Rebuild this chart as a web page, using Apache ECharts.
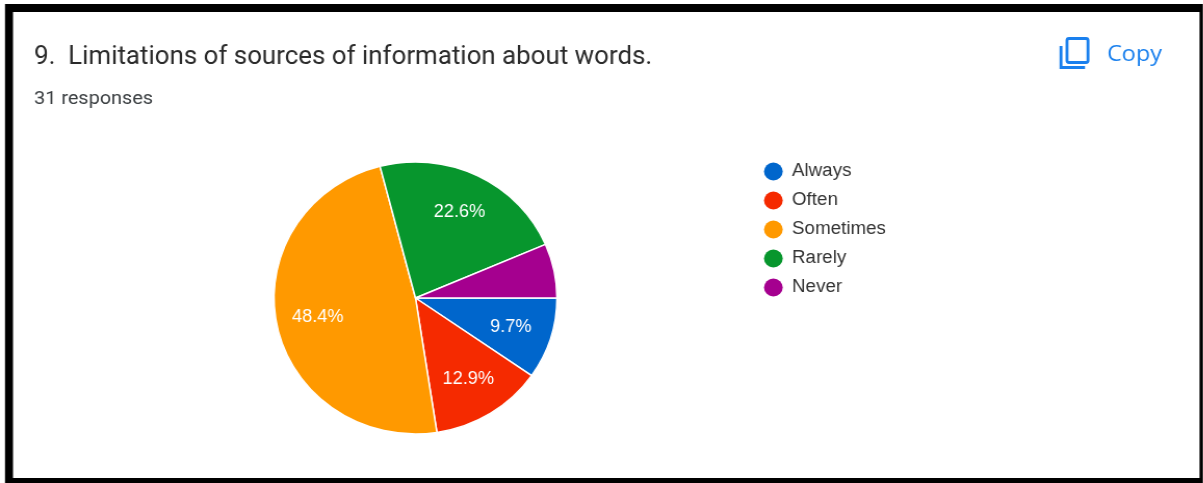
<!DOCTYPE html>
<html>
<head>
<meta charset="utf-8">
<style>
  html, body { margin: 0; padding: 0; background: #fff; overflow: hidden; }
  /* The panel is laid out 4% narrower, then widened to fill the window. */
  #chart { width: 1157px; height: 483px; transform: scaleX(1.04); transform-origin: 0 0; }
</style>
<script src="https://cdn.jsdelivr.net/npm/echarts@6/dist/echarts.min.js"></script>
</head>
<body>
<div id="chart"></div>
<script>
const titleText = '9.  Limitations of sources of information about words.';
const subtitleText = '31 responses';
const copyText = 'Copy';
const categories = ['Always', 'Often', 'Sometimes', 'Rarely', 'Never'];
const values = [3, 4, 15, 7, 2];
const percentLabels = ['9.7%', '12.9%', '48.4%', '22.6%', ''];
const colors = ['#0066cc', '#f52a00', '#ff9900', '#07962d', '#a5008f'];

const WIDEN = 1.04;
const px = x => x / WIDEN;
const blue = '#1a80ee';

const chart = echarts.init(document.getElementById('chart'), null, { renderer: 'canvas' });
chart.setOption({
  animation: false,
  backgroundColor: '#fff',
  graphic: [
    // Heavy black frame around the card, running off the right and bottom edges
    { type: 'rect', silent: true, z: 0,
      shape: { x: px(5), y: 4, width: px(1198), height: 479 },
      style: { fill: '#000' } },
    { type: 'rect', silent: true, z: 1,
      shape: { x: px(13), y: 12, width: px(1186.5), height: 466 },
      style: { fill: '#fff' } },
    // Copy icon: a page outline with a second page's corner behind it
    { type: 'rect', z: 5, shape: { x: px(1067), y: 38.5, width: px(21), height: 24, r: 2 },
      style: { fill: 'none', stroke: blue, lineWidth: 2.8 } },
    { type: 'polyline', z: 5, shape: { points: [[px(1061), 46], [px(1061), 67.5], [px(1085), 67.5]] },
      style: { fill: 'none', stroke: blue, lineWidth: 2.8 } },
    { type: 'text', z: 5, style: { x: px(1107), y: 55, text: copyText, fill: blue,
      font: '500 22.5px "Open Sans"', verticalAlign: 'middle' } }
  ],
  title: {
    text: titleText,
    left: px(34) - 5, top: 40,
    textStyle: { fontFamily: 'Roboto', fontSize: 24.9, fontWeight: 400, color: '#2b2b2b' },
    subtext: subtitleText,
    subtextStyle: { fontFamily: 'Roboto', fontSize: 19.1, color: '#3c4043' },
    itemGap: 20
  },
  legend: {
    orient: 'vertical',
    left: px(764) - 5, top: 157.5,
    itemWidth: 18, itemHeight: 18, itemGap: 11,
    itemStyle: { borderWidth: 0 },
    icon: 'circle',
    data: categories,
    textStyle: { fontFamily: 'Liberation Sans', fontSize: 18, color: '#333', padding: [1, 0, 0, 4] }
  },
  series: [
    {
      type: 'pie',
      center: [px(415.5), 298],
      radius: [0, 136],
      startAngle: 0,
      clockwise: true,
      silent: true,
      data: categories.map((name, i) => ({
        name, value: values[i], itemStyle: { color: colors[i] }
      })),
      label: { show: false },
      labelLine: { show: false },
      itemStyle: { borderColor: '#fff', borderWidth: 1.5 },
      emphasis: { disabled: true }
    },
    {
      // Transparent ring over the same values: it places the percent labels further out
      type: 'pie',
      center: [px(415.5), 298],
      radius: [50, 136],
      startAngle: 0,
      clockwise: true,
      silent: true,
      legendHoverLink: false,
      data: categories.map((name, i) => ({
        name, value: values[i],
        itemStyle: { color: 'rgba(0,0,0,0)' },
        label: { formatter: percentLabels[i] }
      })),
      label: {
        show: true, position: 'inside',
        fontFamily: 'Liberation Sans', fontSize: 17.5, color: '#fff',
        padding: [3, 0, 0, 0]
      },
      labelLine: { show: false },
      emphasis: { disabled: true }
    }
  ]
});
</script>
</body>
</html>
